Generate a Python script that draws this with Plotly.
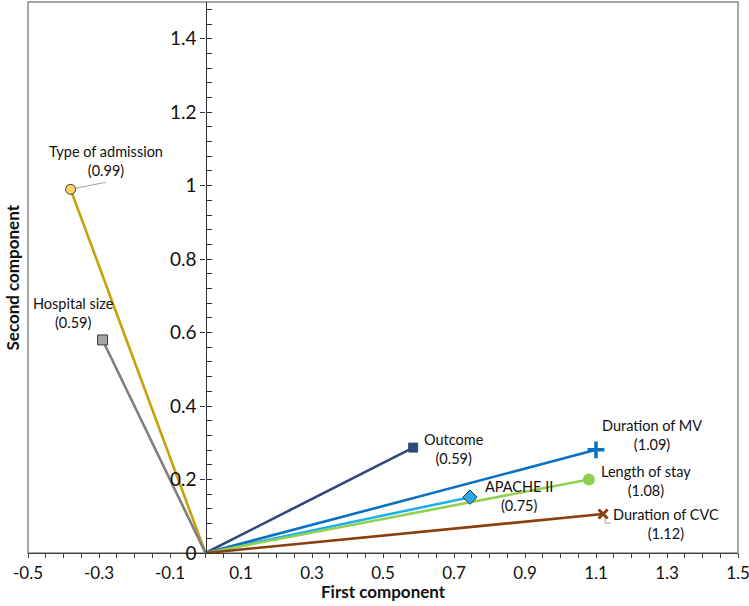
import plotly.graph_objects as go

# ---- data ----
variables = ["Type of admission", "Hospital size", "Outcome", "APACHE II",
             "Duration of MV", "Length of stay", "Duration of CVC"]
first_comp = [-0.38, -0.29, 0.585, 0.745, 1.10, 1.08, 1.12]
second_comp = [0.99, 0.58, 0.287, 0.152, 0.281, 0.20, 0.106]
loadings = ["(0.99)", "(0.59)", "(0.59)", "(0.75)", "(1.09)", "(1.08)", "(1.12)"]
x_tick_vals = [-0.5, -0.3, -0.1, 0.1, 0.3, 0.5, 0.7, 0.9, 1.1, 1.3, 1.5]
x_tick_text = ["-0.5", "-0.3", "-0.1", "0.1", "0.3", "0.5", "0.7", "0.9", "1.1", "1.3", "1.5"]
y_tick_vals = [0, 0.2, 0.4, 0.6, 0.8, 1.0, 1.2, 1.4]
y_tick_text = ["0", "0.2", "0.4", "0.6", "0.8", "1", "1.2", "1.4"]

# ---- styles ----
line_colors = ["#C9A00A", "#7F7F7F", "#2E4A7D", "#1FB1EE", "#0A70C2", "#92D050", "#8B3E0E"]
marker_styles = [
    dict(symbol="circle", size=10, color="#F8D46A", line=dict(color="#3a3a3a", width=1)),
    dict(symbol="square", size=10, color="#A6A6A6", line=dict(color="#3a3a3a", width=1)),
    dict(symbol="square", size=9, color="#2E4A7D", line=dict(color="#2E4A7D", width=1)),
    dict(symbol="diamond", size=11, color="#2AA9E2", line=dict(color="#1F3864", width=1)),
    dict(symbol="cross-thin", size=12, color="#0A70C2", line=dict(color="#0A70C2", width=3.5)),
    dict(symbol="circle", size=12, color="#92D050", line=dict(color="#92D050", width=0)),
    dict(symbol="x-thin", size=9, color="#8B3E0E", line=dict(color="#8B3E0E", width=3)),
]
label_shift = [(35, 28), (-29, 27), (41, -1), (49, 1), (56, 15), (57, -1), (63, -10)]

FONT = "Lato"

fig = go.Figure()
for i, name in enumerate(variables):
    fig.add_trace(go.Scatter(
        x=[0, first_comp[i]], y=[0, second_comp[i]],
        mode="lines", line=dict(color=line_colors[i], width=2.6),
        hoverinfo="skip", showlegend=False))
for i, name in enumerate(variables):
    fig.add_trace(go.Scatter(
        x=[first_comp[i]], y=[second_comp[i]], mode="markers",
        marker=marker_styles[i], name=name, showlegend=False))
    fig.add_annotation(
        x=first_comp[i], y=second_comp[i], xref="x", yref="y",
        text=name + "<br>" + loadings[i], showarrow=False,
        xshift=label_shift[i][0], yshift=label_shift[i][1],
        font=dict(family=FONT, size=14.5, color="#111"), align="center")

# leader lines
fig.add_shape(type="line", xref="x", yref="y", xsizemode="pixel", ysizemode="pixel",
              xanchor=first_comp[0], yanchor=second_comp[0],
              x0=5, y0=1, x1=35, y1=7, line=dict(color="#A0A0A0", width=1))
fig.add_shape(type="line", xref="x", yref="y", xsizemode="pixel", ysizemode="pixel",
              xanchor=first_comp[6], yanchor=second_comp[6],
              x0=2, y0=-4, x1=2, y1=-9, line=dict(color="#A0A0A0", width=1))
fig.add_shape(type="line", xref="x", yref="y", xsizemode="pixel", ysizemode="pixel",
              xanchor=first_comp[6], yanchor=second_comp[6],
              x0=2, y0=-9, x1=8, y1=-9, line=dict(color="#A0A0A0", width=1))

# plot border
fig.add_shape(type="rect", xref="paper", yref="paper", x0=0, x1=1, y0=0, y1=1,
              line=dict(color="#8A8A8A", width=1.5), layer="below")

fig.add_annotation(text="<b>First component</b>", xref="paper", yref="paper",
                   x=0.5, y=0, yshift=-38, showarrow=False, yanchor="middle",
                   font=dict(family=FONT, size=17, color="#111"))
fig.add_annotation(text="<b>Second component</b>", xref="paper", yref="paper",
                   x=0, xshift=-16, y=0.5, textangle=-90, showarrow=False,
                   xanchor="center", font=dict(family=FONT, size=17, color="#111"))

fig.update_layout(
    width=749, height=606,
    margin=dict(l=28, r=11, t=2, b=53, autoexpand=False),
    paper_bgcolor="white", plot_bgcolor="white",
    font=dict(family=FONT, size=18, color="#111"),
    xaxis=dict(range=[-0.5, 1.5], tickvals=x_tick_vals, ticktext=x_tick_text,
               automargin=False, ticklabeloverflow="allow",
               showgrid=False, zeroline=False, showline=True, linecolor="#404040",
               linewidth=1.2, ticks="outside", ticklen=4, tickcolor="#404040",
               minor=dict(dtick=0.05, tick0=0, ticks="outside", ticklen=4,
                          tickcolor="#404040", showgrid=False),
               tickfont=dict(family=FONT, size=17), fixedrange=True),
    yaxis=dict(range=[0, 1.5], tickvals=y_tick_vals, ticktext=y_tick_text,
               anchor="free", position=0.25, automargin=False,
               ticklabeloverflow="allow",
               showgrid=False, zeroline=False, showline=True, linecolor="#303030",
               linewidth=1.2, ticks="outside", ticklen=5, tickcolor="#303030",
               minor=dict(dtick=0.04, tick0=0, ticks="inside", ticklen=5,
                          tickcolor="#303030", showgrid=False),
               tickfont=dict(family=FONT, size=19), fixedrange=True),
    yaxis2=dict(range=[0, 1.5], overlaying="y", anchor="free", position=0.25,
                automargin=False,
                tickvals=y_tick_vals, showticklabels=False, ticks="inside",
                ticklen=5, tickcolor="#303030", showgrid=False, zeroline=False,
                showline=False, fixedrange=True),
)

fig.write_html("out.html", config={"displayModeBar": False},
               post_script="document.body.style.margin='0';")
